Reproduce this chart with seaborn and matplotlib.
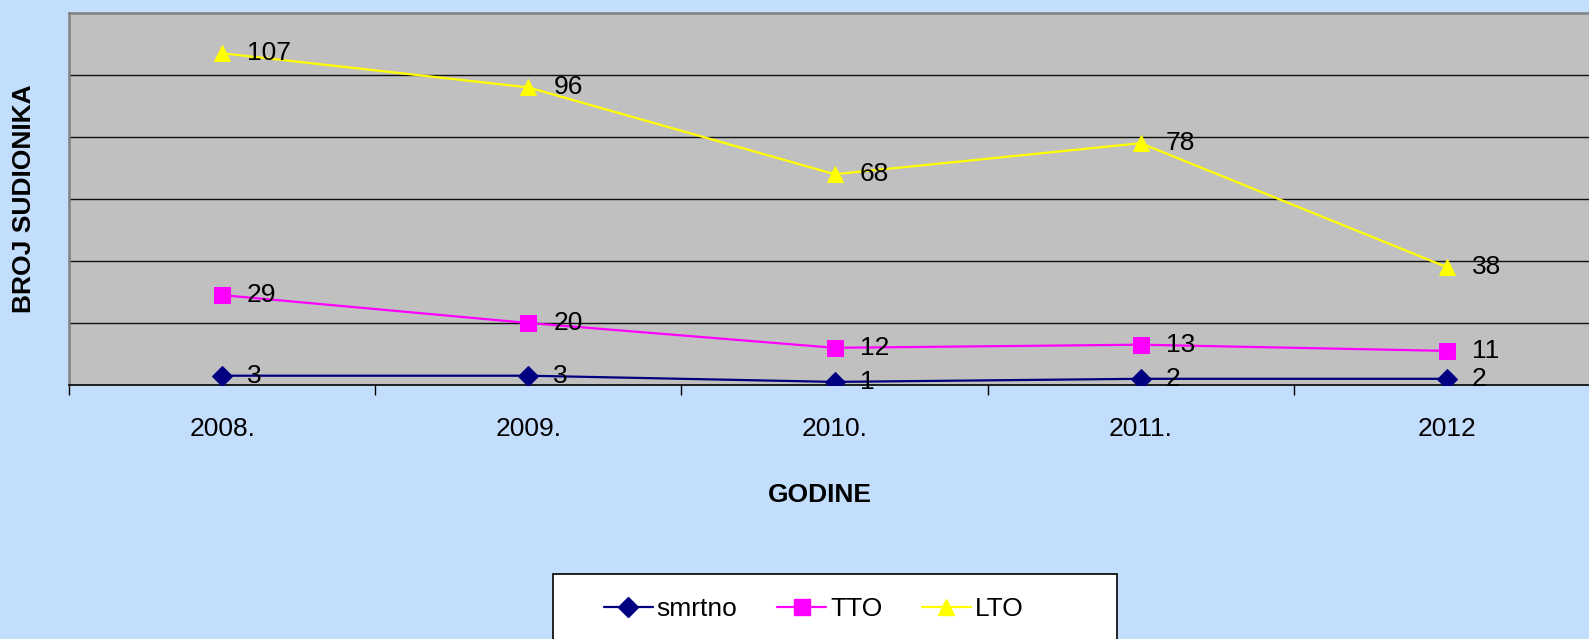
import numpy as np
import pandas as pd
import matplotlib
matplotlib.use('Agg')
import matplotlib.pyplot as plt
from matplotlib.lines import Line2D
from matplotlib.patches import Rectangle
import seaborn as sns

# podaci
godine = ['2008.', '2009.', '2010.', '2011.', '2012']
smrtno = [3, 3, 1, 2, 2]
tto = [29, 20, 12, 13, 11]
lto = [107, 96, 68, 78, 38]

serije = ['smrtno', 'TTO', 'LTO']
boje = ['#000080', '#FF00FF', '#FFFF00']
markeri = ['D', 's', '^']
velicine = [10, 11, 11.5]

sns.set_theme(style='white')
plt.rcParams['font.family'] = ['Liberation Sans', 'DejaVu Sans']
plt.rcParams['text.color'] = 'black'
plt.rcParams['xtick.color'] = 'black'
plt.rcParams['xtick.labelcolor'] = 'black'

W, H = 1589, 639
fig = plt.figure(figsize=(W / 100, H / 100), dpi=100)
fig.patch.set_facecolor('#C3DDFC')

# plot area u pikselima
left, right, top, bottom = 69, 1589, 13, 385
ax = fig.add_axes([left / W, 1 - bottom / H, (right - left) / W, (bottom - top) / H])
ax.set_facecolor('#C0C0C0')

x = np.arange(len(godine))
df = pd.DataFrame({'x': x, 'smrtno': smrtno, 'TTO': tto, 'LTO': lto})

for s, c, m, ms in zip(serije, boje, markeri, velicine):
    sns.lineplot(data=df, x='x', y=s, ax=ax, color=c, marker=m, markersize=ms,
                 markeredgecolor=c, linewidth=1.6, zorder=3)
    for xi, yi in zip(df['x'], df[s]):
        ax.annotate(str(yi), (xi, yi), xytext=(18, 0), textcoords='offset points',
                    ha='left', va='center', fontsize=19, color='black', zorder=4)

ax.set_ylim(0, 120)
ax.set_xlim(-0.5, 4 + (1589 - 1447) / 306.2)
ax.set_yticks([20, 40, 60, 80, 100])
ax.set_yticklabels([])
ax.tick_params(axis='y', length=0)
ax.yaxis.grid(True, color='#101010', linewidth=1.0)
ax.xaxis.grid(False)

ax.set_xticks(x)
ax.set_xticklabels(godine, fontsize=19, color='black')
ax.tick_params(axis='x', which='major', length=0, pad=23)
ax.set_xticks(np.arange(-0.5, 4.5, 1.0), minor=True)
ax.tick_params(axis='x', which='minor', length=7, width=1, color='black', direction='out', bottom=True)
ax.set_xlabel('')
ax.set_ylabel('')

for sp in ['top', 'left']:
    ax.spines[sp].set_color('#808080')
    ax.spines[sp].set_linewidth(1.8)
ax.spines['right'].set_visible(False)
ax.spines['bottom'].set_color('black')
ax.spines['bottom'].set_linewidth(1.2)

fig.text(24 / W, 1 - 199 / H, 'BROJ SUDIONIKA', rotation=90, ha='center', va='center',
         fontsize=19, fontweight='bold', color='black')
fig.text(820 / W, 1 - 495 / H, 'GODINE', ha='center', va='center',
         fontsize=19, fontweight='bold', color='black')

# legenda
fig.patches.append(Rectangle((553 / W, -0.05), (1117 - 553) / W, 1 - 574 / H + 0.05,
                             transform=fig.transFigure, facecolor='white',
                             edgecolor='black', linewidth=1.2, zorder=1))
handles = [Line2D([0], [0], color=c, marker=m, markersize=ms, markeredgecolor=c, linewidth=1.6)
           for c, m, ms in zip(boje, markeri, velicine)]
leg = fig.legend(handles, serije, loc='center left', bbox_to_anchor=(604 / W, 1 - 609 / H),
                 ncol=3, frameon=False, fontsize=19, handlelength=1.85,
                 handletextpad=0.15, columnspacing=1.5, borderpad=0, borderaxespad=0)
leg.set_zorder(2)
for t in leg.get_texts():
    t.set_color('black')

fig.savefig('out.png', dpi=100, facecolor=fig.get_facecolor())
